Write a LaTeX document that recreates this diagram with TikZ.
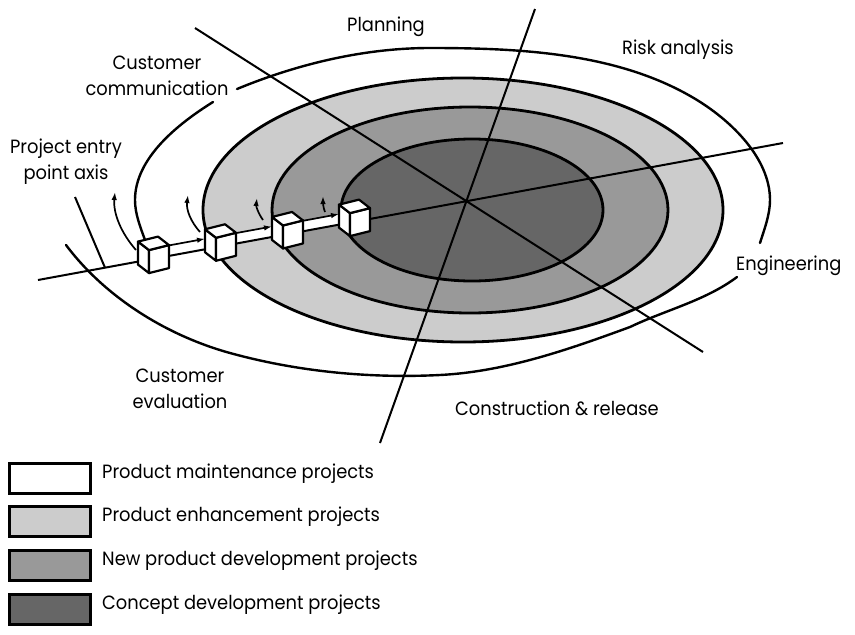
\documentclass[tikz,border=0pt]{standalone}
\usepackage{fontspec}
\setmainfont[FakeStretch=0.93]{Poppins}
\usetikzlibrary{arrows.meta}
\definecolor{ringlight}{HTML}{CCCCCC}
\definecolor{ringmid}{HTML}{999999}
\definecolor{ringdark}{HTML}{666666}
\tikzset{
  ring/.style={line width=2.8pt, draw=black},
  axisline/.style={line width=2pt, draw=black},
  spiral/.style={line width=2.4pt, draw=black, line cap=round},
  cubeface/.style={line width=2.2pt, draw=black, fill=white, line join=round},
  flow/.style={line width=1.7pt, draw=black, -{Latex[length=8pt,width=5.5pt]}},
  lbl/.style={font=\fontsize{19.2}{26}\selectfont, inner sep=0pt, align=center},
  keybox/.style={line width=2.8pt, draw=black, minimum width=81pt, minimum height=30pt, inner sep=0pt},
}

\begin{document}
\begin{tikzpicture}[x=1pt, y=-1pt]  % 1px = 1pt, y downwards
  \useasboundingbox (0,0) rectangle (855,635);
  % project rings, outside in
  \draw[ring, fill=ringlight] (463,210) ellipse[x radius=260, y radius=132];
  \draw[ring, fill=ringmid] (470,210) ellipse[x radius=198, y radius=103];
  \draw[ring, fill=ringdark] (472,210) ellipse[x radius=131, y radius=71];
  % outer spiral, broken at the labels
  \draw[spiral] (66,245) .. controls (105.3,297.4) and (166.9,335.6) .. (230,353)
    .. controls (297.9,371.7) and (369.6,378.5) .. (440,375)
    .. controls (505.3,371.7) and (568.7,349.5) .. (630,327)
    .. controls (665.5,310) and (705.5,300.6) .. (737,277);
  \draw[spiral] (760,243) .. controls (764.4,229) and (770,214.7) .. (770,200)
    .. controls (770,158.7) and (732.1,121.5) .. (697,100)
    .. controls (619.9,52.8) and (520.7,48) .. (430,48)
    .. controls (364.2,48) and (297.5,64) .. (237,89);
  \draw[spiral] (213,102) .. controls (177.5,124.2) and (135,158.2) .. (135,200)
    .. controls (135,213.8) and (140.3,227) .. (145,240);
  % task region axes
  \draw[axisline] (195,28) -- (703,352);
  \draw[axisline] (535,9) -- (380,443);
  % entry point axis with white track
  \fill[white] (149,259.6) -- (350,222.6) -- (350,212.1) -- (149,249.1) -- cycle;
  \draw[axisline] (38,280) -- (783,143);
  \coordinate (ptrtop) at (75,197);
  \coordinate (ptrbot) at (105,267.7);
  \draw[axisline] (ptrtop) -- (ptrbot);
  % flow between entry points
  \draw[flow] (169,245.4) -- (205,238.8);
  \draw[flow] (236,233.1) -- (272,226.5);
  \draw[flow] (303,220.8) -- (339,214.1);
  % entry cubes
  \foreach \cx in {149,216,283,350}{
    \begin{scope}[shift={(\cx,{293.5-0.1839*(\cx-38)})}]
      \draw[cubeface] (0,0) -- (-11,-8.5) -- (-11,-31.5) -- (0,-23) -- cycle;
      \draw[cubeface] (0,0) -- (20,-5) -- (20,-28) -- (0,-23) -- cycle;
      \draw[cubeface] (0,-23) -- (-11,-31.5) -- (9,-36.5) -- (20,-28) -- cycle;
    \end{scope}
  }
  % turning arrows
  \draw[flow] (136,250) .. controls (121,233) and (113,213) .. (115,192);
  \draw[flow] (200,232) .. controls (191,222) and (186,210) .. (188,195);
  \draw[flow] (263,220) .. controls (258,213) and (256,206) .. (257,198);
  \draw[flow] (325,212) .. controls (323,207) and (323,202) .. (323,196);
  % labels
  \node[lbl, anchor=base west] (planning) at (347,31) {Planning};
  \node[lbl] (custcomm) at (157,76) {Customer\\communication};
  \node[lbl, anchor=base west] (risk) at (622,54) {Risk analysis};
  \node[lbl] (entrylbl) at (66,162) {Project entry\\point axis};
  \node[lbl, anchor=base west] (eng) at (736,270) {Engineering};
  \node[lbl] (custeval) at (180,389) {Customer\\evaluation};
  \node[lbl, anchor=base west] (constr) at (455,415) {Construction \& release};
  % legend
  \foreach \col/\yy/\txt [count=\k] in {white/478.5/Product maintenance projects,
      ringlight/521.5/Product enhancement projects,
      ringmid/565.5/New product development projects,
      ringdark/609.5/Concept development projects}{
    \node[keybox, fill=\col] (key\k) at (50,\yy) {};
    \node[lbl, anchor=base west] (keytxt\k) at (102,\yy) {\txt};
  }
\end{tikzpicture}
\end{document}
